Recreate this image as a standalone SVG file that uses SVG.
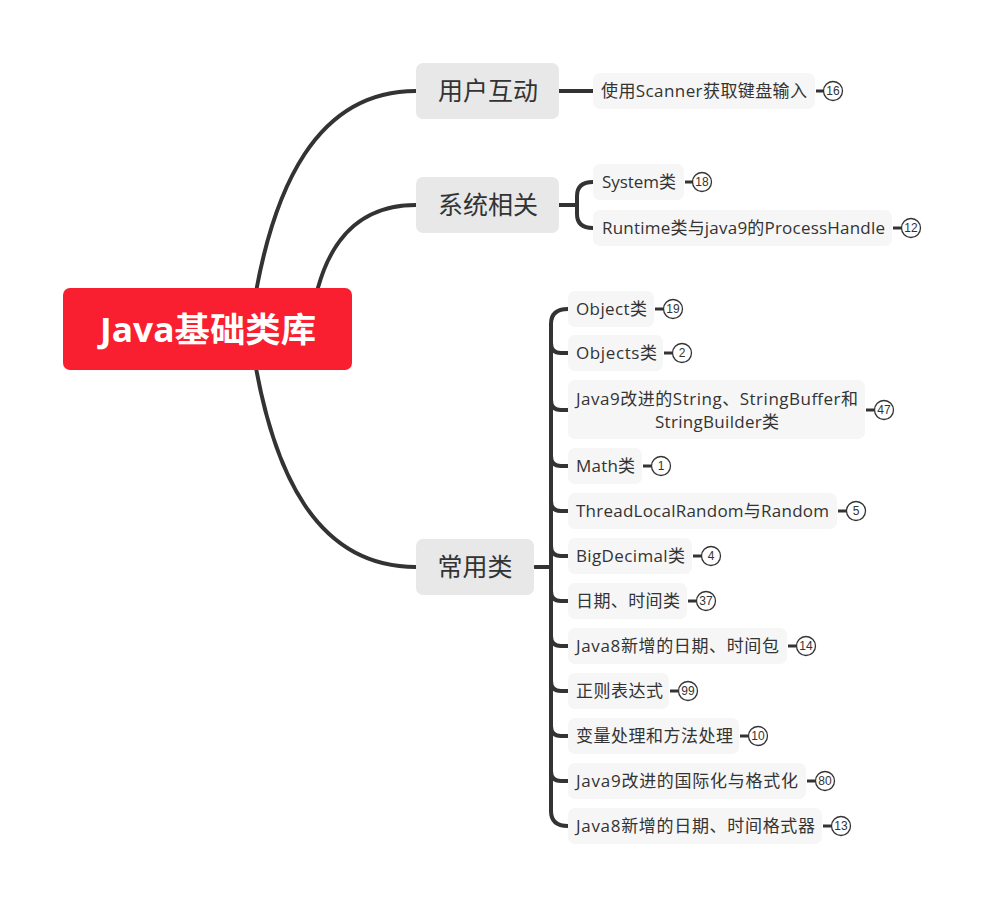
<svg xmlns="http://www.w3.org/2000/svg" width="982" height="907" viewBox="0 0 982 907">
<style>
.conn{fill:none;stroke:#333;stroke-width:4;stroke-linecap:round}
.bl{fill:none;stroke:#333;stroke-width:3}
.leaf rect{fill:#f6f6f6}
.leaf text{font-family:"Open Sans","Noto Sans CJK SC",sans-serif;font-size:17px;fill:#333}
.br rect{fill:#e8e8e8}
.br text{font-family:"Open Sans","Noto Sans CJK SC",sans-serif;font-size:25px;fill:#333;text-anchor:middle}
.badge circle{fill:#fff;stroke:#333;stroke-width:1.3}
.badge text{font-family:"Liberation Sans",sans-serif;font-size:12px;fill:#333;text-anchor:middle}
</style>
<rect width="982" height="907" fill="#fff"/>
<g id="connectors">
<path class="conn" d="M250,330 C270,180 320,91 416,91"/>
<path class="conn" d="M310,330 C318,260 345,205 416,205"/>
<path class="conn" d="M250,330 C270,480 320,567 416,567"/>
<path class="conn" d="M559,91 H593"/>
<path class="conn" d="M559,205 H577"/>
<path class="conn" d="M593,182 Q577,182 577,196 V214 Q577,228 593,228"/>
<path class="conn" d="M535,567 H551"/>
<path class="conn" d="M568,309 Q551,309 551,324 V811 Q551,826 568,826"/>
<path class="conn" d="M551,343 Q551,353 561,353 H568"/>
<path class="conn" d="M551,400 Q551,410 561,410 H568"/>
<path class="conn" d="M551,456 Q551,466 561,466 H568"/>
<path class="conn" d="M551,501 Q551,511 561,511 H568"/>
<path class="conn" d="M551,546 Q551,556 561,556 H568"/>
<path class="conn" d="M551,591 Q551,601 561,601 H568"/>
<path class="conn" d="M551,636 Q551,646 561,646 H568"/>
<path class="conn" d="M551,681 Q551,691 561,691 H568"/>
<path class="conn" d="M551,726 Q551,736 561,736 H568"/>
<path class="conn" d="M551,771 Q551,781 561,781 H568"/>
</g>
<g id="root">
<rect x="63" y="288" width="289" height="82" rx="7" fill="#f91f30"/>
<text x="208" y="342" text-anchor="middle" font-family="'Open Sans','Noto Sans CJK SC',sans-serif" font-size="34" font-weight="bold" fill="#fff" textLength="216" lengthAdjust="spacingAndGlyphs">Java基础类库</text>
</g>
<g id="b1" class="br"><rect x="416" y="63" width="143" height="56" rx="7"/><text x="488" y="100">用户互动</text></g>
<g id="b2" class="br"><rect x="416" y="177" width="143" height="56" rx="7"/><text x="488" y="214">系统相关</text></g>
<g id="b3" class="br"><rect x="416" y="539" width="118" height="56" rx="7"/><text x="475" y="576">常用类</text></g>

<g id="l1" class="leaf"><rect x="593" y="73" width="222" height="36" rx="7"/><text x="601" y="97" textLength="206">使用Scanner获取键盘输入</text></g>
<g id="l1b" class="badge"><path class="bl" d="M816,91 H824"/><circle cx="833" cy="91" r="9.5"/><text x="833" y="95">16</text></g>

<g id="l2" class="leaf"><rect x="593" y="164" width="91" height="36" rx="7"/><text x="602" y="188" textLength="74">System类</text></g>
<g id="l2b" class="badge"><path class="bl" d="M685,182 H693"/><circle cx="702" cy="182" r="9.5"/><text x="702" y="186">18</text></g>
<g id="l3" class="leaf"><rect x="593" y="210" width="299" height="36" rx="7"/><text x="602" y="234" textLength="283">Runtime类与java9的ProcessHandle</text></g>
<g id="l3b" class="badge"><path class="bl" d="M893,228 H901"/><circle cx="911" cy="228" r="9.5"/><text x="911" y="232">12</text></g>

<g id="c1" class="leaf"><rect x="568" y="291" width="86" height="36" rx="7"/><text x="576" y="315" textLength="71">Object类</text></g>
<g id="c1b" class="badge"><path class="bl" d="M655,309 H663"/><circle cx="673" cy="309" r="9.5"/><text x="673" y="313">19</text></g>
<g id="c2" class="leaf"><rect x="568" y="335" width="95" height="36" rx="7"/><text x="576" y="359" textLength="81">Objects类</text></g>
<g id="c2b" class="badge"><path class="bl" d="M664,353 H672"/><circle cx="682" cy="353" r="9.5"/><text x="682" y="357">2</text></g>
<g id="c3" class="leaf"><rect x="568" y="380" width="297" height="59" rx="7"/><text x="717" y="405" text-anchor="middle" textLength="282">Java9改进的String、StringBuffer和</text><text x="717" y="428" text-anchor="middle" textLength="124">StringBuilder类</text></g>
<g id="c3b" class="badge"><path class="bl" d="M866,410 H874"/><circle cx="884" cy="410" r="9.5"/><text x="884" y="414">47</text></g>
<g id="c4" class="leaf"><rect x="568" y="448" width="74" height="36" rx="7"/><text x="576" y="472" textLength="59">Math类</text></g>
<g id="c4b" class="badge"><path class="bl" d="M643,466 H651"/><circle cx="661" cy="466" r="9.5"/><text x="661" y="470">1</text></g>
<g id="c5" class="leaf"><rect x="568" y="493" width="269" height="36" rx="7"/><text x="576" y="517" textLength="253">ThreadLocalRandom与Random</text></g>
<g id="c5b" class="badge"><path class="bl" d="M838,511 H846"/><circle cx="856" cy="511" r="9.5"/><text x="856" y="515">5</text></g>
<g id="c6" class="leaf"><rect x="568" y="538" width="124" height="36" rx="7"/><text x="576" y="562" textLength="109">BigDecimal类</text></g>
<g id="c6b" class="badge"><path class="bl" d="M693,556 H701"/><circle cx="711" cy="556" r="9.5"/><text x="711" y="560">4</text></g>
<g id="c7" class="leaf"><rect x="568" y="583" width="119" height="36" rx="7"/><text x="576" y="607" textLength="104">日期、时间类</text></g>
<g id="c7b" class="badge"><path class="bl" d="M688,601 H696"/><circle cx="706" cy="601" r="9.5"/><text x="706" y="605">37</text></g>
<g id="c8" class="leaf"><rect x="568" y="628" width="219" height="36" rx="7"/><text x="576" y="652" textLength="203">Java8新增的日期、时间包</text></g>
<g id="c8b" class="badge"><path class="bl" d="M788,646 H796"/><circle cx="806" cy="646" r="9.5"/><text x="806" y="650">14</text></g>
<g id="c9" class="leaf"><rect x="568" y="673" width="101" height="36" rx="7"/><text x="576" y="697" textLength="87">正则表达式</text></g>
<g id="c9b" class="badge"><path class="bl" d="M670,691 H678"/><circle cx="688" cy="691" r="9.5"/><text x="688" y="695">99</text></g>
<g id="c10" class="leaf"><rect x="568" y="718" width="171" height="36" rx="7"/><text x="576" y="742" textLength="157">变量处理和方法处理</text></g>
<g id="c10b" class="badge"><path class="bl" d="M740,736 H748"/><circle cx="758" cy="736" r="9.5"/><text x="758" y="740">10</text></g>
<g id="c11" class="leaf"><rect x="568" y="763" width="238" height="36" rx="7"/><text x="576" y="787" textLength="222">Java9改进的国际化与格式化</text></g>
<g id="c11b" class="badge"><path class="bl" d="M807,781 H815"/><circle cx="825" cy="781" r="9.5"/><text x="825" y="785">80</text></g>
<g id="c12" class="leaf"><rect x="568" y="808" width="254" height="36" rx="7"/><text x="576" y="832" textLength="239">Java8新增的日期、时间格式器</text></g>
<g id="c12b" class="badge"><path class="bl" d="M823,826 H831"/><circle cx="841" cy="826" r="9.5"/><text x="841" y="830">13</text></g>
</svg>
